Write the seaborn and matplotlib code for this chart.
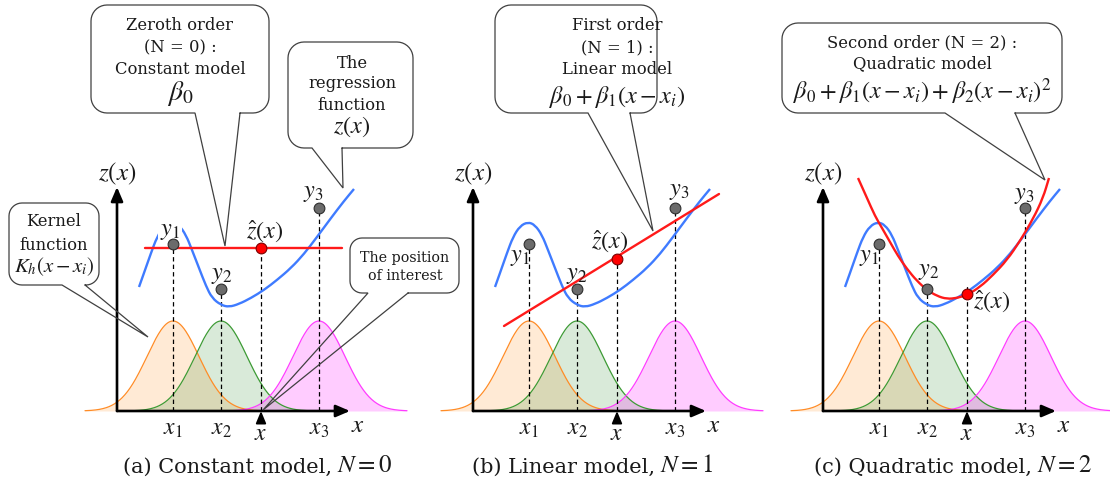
import numpy as np
import matplotlib
matplotlib.use("Agg")
import matplotlib.pyplot as plt
from matplotlib.path import Path
from matplotlib.patches import PathPatch
import seaborn as sns

sns.set_theme(style="white")
plt.rcParams["font.family"] = ["DejaVu Serif"]
plt.rcParams["mathtext.fontset"] = "stix"

# Canvas geometry (1 data unit = 1 pixel, origin at each panel's axes corner)
W, H = 1110, 483
BASE = 411
panel_origin = [117, 473, 823]

# Samples (x_i, y_i) and the query position x
x_samples = [56, 104, 202]
y_samples = [167, 122, 203]
x_query = 144

# Gaussian kernels K_h(x - x_i)
kernel_height = 90
kernel_bw = 26
kernel_reach = 88
kernel_line = ["#ff8c26", "#3d9b35", "#ff3cff"]
kernel_fill = ["#ff8c1a", "#2e8b2e", "#ff00ff"]
kernel_alpha = [0.18, 0.18, 0.2]

# Underlying regression function z(x)
curve_x = [22, 27, 34, 40, 47, 55, 62, 69, 75, 82, 89, 95, 104, 112, 122,
           134, 147, 160, 174, 187, 200, 214, 227, 237]
curve_y = [124, 138, 158, 174, 185, 189, 186, 176, 161, 143, 125, 113, 106,
           104, 107, 113, 121, 131, 143, 157, 174, 193, 210, 222]

# Local fits around x
const_x = [28, 225]
const_y = [163, 163]
const_at_query = 163

linear_x = [31, 246]
linear_y = [85, 217]
linear_at_query = 152

quad_x = [35, 44, 52, 59, 67, 75, 84, 94, 104, 114, 124, 134, 144, 157,
          170, 184, 197, 210, 220, 226]
quad_y = [233, 213, 195, 183, 169, 155, 142, 130, 121, 115, 112, 113, 116,
          124, 136, 151, 170, 192, 213, 233]
quad_at_query = 117

caption_text = ["(a) Constant model,", "(b) Linear model,", "(c) Quadratic model,"]
caption_math = [r"$N = 0$", r"$N = 1$", r"$N = 2$"]
caption_split = [215, 182, 209]

# per-panel label anchors: y1, y2, z-hat, y3
label_pos = [
    [(53, 181), (104.5, 137), (148, 179.5), (196.5, 218.5)],
    [(47, 154), (104, 137), (137, 170), (206, 221)],
    [(46.5, 154.5), (105.5, 140), (168.5, 109.5), (201, 216)],
]

BLUE = "#3f7bff"
RED = "#ff1a1a"
EDGE = "#404040"
INK = "#1a1a1a"
TXT = 11.8

fig = plt.figure(figsize=(W / 100, H / 100), dpi=100)


def smooth_curve(ax, xs, ys, color, lw, zorder):
    """Draw a curve through the listed points as chained quadratic Beziers."""
    verts = [(xs[0], ys[0])]
    codes = [Path.MOVETO]
    for i in range(1, len(xs) - 1):
        verts += [(xs[i], ys[i]), ((xs[i] + xs[i + 1]) / 2, (ys[i] + ys[i + 1]) / 2)]
        codes += [Path.CURVE3, Path.CURVE3]
    verts.append((xs[-1], ys[-1]))
    codes.append(Path.LINETO)
    ax.add_patch(PathPatch(Path(verts, codes), fc="none", ec=color, lw=lw,
                           zorder=zorder, capstyle="butt"))


def rounded_rect(x0, y0, x1, y1, r, n=10):
    """Vertices of a rounded rectangle, counter-clockwise from bottom-right."""
    pts = []
    corners = [((x1 - r, y0 + r), -90), ((x1 - r, y1 - r), 0),
               ((x0 + r, y1 - r), 90), ((x0 + r, y0 + r), 180)]
    for (cx, cy), a0 in corners:
        t = np.radians(np.linspace(a0, a0 + 90, n))
        pts.extend(zip(cx + r * np.cos(t), cy + r * np.sin(t)))
    return pts


def bubble(ax, box, r, base, tip, lines, sizes, spacing, text_x=None):
    x0, y0, x1, y1 = box
    rect = rounded_rect(x0, y0, x1, y1, r)
    rx, ry = zip(*rect)
    ax.fill(rx, ry, color="white", zorder=8, lw=0)
    outline = [(base[1], y0)] + rect + [(base[0], y0), tip, (base[1], y0)]
    ox, oy = zip(*outline)
    ax.plot(ox, oy, color=EDGE, lw=0.9, zorder=9, solid_joinstyle="miter")
    tx = (x0 + x1) / 2 if text_x is None else text_x
    for txt, yy, fs in zip(lines, spacing, sizes):
        ax.text(tx, yy, txt, ha="center", va="center", fontsize=fs,
                color=INK, zorder=10)


def axis_arrow(ax, start, end):
    ax.annotate("", xy=end, xytext=start,
                arrowprops=dict(arrowstyle="-|>,head_length=0.7,head_width=0.3",
                                color="black", lw=1.9, shrinkA=0, shrinkB=0),
                zorder=6)


for p, ox in enumerate(panel_origin):
    ax = fig.add_axes([0, 0, 1, 1])
    ax.set_xlim(-ox, W - ox)
    ax.set_ylim(-(H - BASE), BASE)
    ax.set_axis_off()

    # kernels
    for c, lc, fc, al in zip(x_samples, kernel_line, kernel_fill, kernel_alpha):
        t = np.linspace(c - kernel_reach, c + kernel_reach, 200)
        k = kernel_height * np.exp(-0.5 * ((t - c) / kernel_bw) ** 2)
        ax.fill_between(t, 0, k, color=fc, alpha=al, lw=0, zorder=1)
        ax.plot(t, k, color=lc, lw=0.9, zorder=2)

    # axes with arrows
    axis_arrow(ax, (0, 0), (0, 224))
    axis_arrow(ax, (0, 0), (233, 0))
    ax.text(0, 237, r"$z(x)$", ha="center", va="center", fontsize=18, color=INK)
    ax.text(241, -14, r"$x$", ha="center", va="center", fontsize=18, color=INK)

    # sample ticks and query marker
    for i, xs in enumerate(x_samples):
        ax.text(xs, -17, rf"$x_{i + 1}$", ha="center", va="center",
                fontsize=17, color=INK)
    ax.annotate("", xy=(x_query, 0), xytext=(x_query, -12),
                arrowprops=dict(arrowstyle="-|>,head_length=0.6,head_width=0.25",
                                color="black", lw=1.4, shrinkA=0, shrinkB=0),
                zorder=7)
    ax.text(x_query, -23, r"$x$", ha="center", va="center", fontsize=17, color=INK)

    # regression function
    smooth_curve(ax, curve_x, curve_y, BLUE, 1.7, 3)

    # local fit for this order
    if p == 0:
        zq, dash_top = const_at_query, const_at_query
        sns.lineplot(x=const_x, y=const_y, ax=ax, color=RED, lw=1.7,
                     estimator=None, zorder=4)
    elif p == 1:
        zq, dash_top = linear_at_query, linear_at_query
        sns.lineplot(x=linear_x, y=linear_y, ax=ax, color=RED, lw=1.7,
                     estimator=None, zorder=4)
    else:
        zq, dash_top = quad_at_query, 126
        smooth_curve(ax, quad_x, quad_y, RED, 1.7, 4)

    # drop lines
    for xs, ys in zip(x_samples, y_samples):
        ax.plot([xs, xs], [0, ys], color="black", lw=0.9, ls=(0, (3.5, 2.5)), zorder=2.5)
    ax.plot([x_query, x_query], [0, dash_top], color="black", lw=0.9,
            ls=(0, (3.5, 2.5)), zorder=2.5)

    # sample points and estimate
    sns.scatterplot(x=x_samples, y=y_samples, ax=ax, s=60, color="#6b6b6b",
                    edgecolor="#2e2e2e", linewidth=0.8, zorder=6)
    sns.scatterplot(x=[x_query], y=[zq], ax=ax, s=60, color="#ff0000",
                    edgecolor="#7a0000", linewidth=0.8, zorder=7)

    # point labels
    names = [r"$y_1$", r"$y_2$", r"$\hat{z}(x)$", r"$y_3$"]
    for j, (name, (lx, ly)) in enumerate(zip(names, label_pos[p])):
        kw = {}
        if p == 0 and j == 0:
            kw["bbox"] = dict(boxstyle="square,pad=0.1", fc="white", ec="none")
        ax.text(lx, ly, name, ha="center", va="center", fontsize=17.5,
                color=INK, zorder=5, **kw)

    # caption: plain words followed by the math part
    ax.text(caption_split[p], -56, caption_text[p], ha="right", va="center",
            fontsize=15, color=INK)
    ax.text(caption_split[p] + 5, -55, caption_math[p], ha="left", va="center",
            fontsize=18, color=INK)

    if ax.get_legend() is not None:
        ax.get_legend().remove()
    ax.set_xlim(-ox, W - ox)
    ax.set_ylim(-(H - BASE), BASE)

    if p == 0:
        bubble(ax, (-26, 298, 152, 406), 16, (78, 123), (108, 165),
               ["Zeroth order", "(N = 0) :", "Constant model", r"$\beta_0$"],
               [TXT, TXT, TXT, 20], [385, 363, 342, 317], text_x=63)
        bubble(ax, (171, 263, 296, 369), 16, (195, 225), (226, 223),
               ["The", "regression", "function", r"$z(x)$"],
               [TXT, TXT, TXT, 17.5], [348, 327, 306, 284], text_x=235)
        bubble(ax, (-108, 126, -18, 208), 13, (-55, -32), (31, 74),
               ["Kernel", "function", r"$K_h(x-x_i)$"],
               [TXT, TXT, 15], [189, 166, 144])
        bubble(ax, (233, 118, 342, 173), 12, (251, 291), (146, 1),
               ["The position", "of interest"],
               [10.3, 10.3], [153, 135], text_x=288)
    elif p == 1:
        bubble(ax, (22, 298, 184, 406), 16, (115, 157), (180, 180),
               ["First order", "(N = 1) :", "Linear model",
                r"$\beta_0+\beta_1(x-x_i)$"],
               [TXT, TXT, TXT, 17.5], [385, 363, 342, 314], text_x=144)
    else:
        bubble(ax, (-41, 298, 239, 388), 16, (122, 192), (222, 231),
               ["Second order (N = 2) :", "Quadratic model",
                r"$\beta_0+\beta_1(x-x_i)+\beta_2(x-x_i)^2$"],
               [TXT, TXT, 17.5], [368, 347, 319], text_x=99)

fig.savefig("out.png", dpi=100, facecolor="white")
